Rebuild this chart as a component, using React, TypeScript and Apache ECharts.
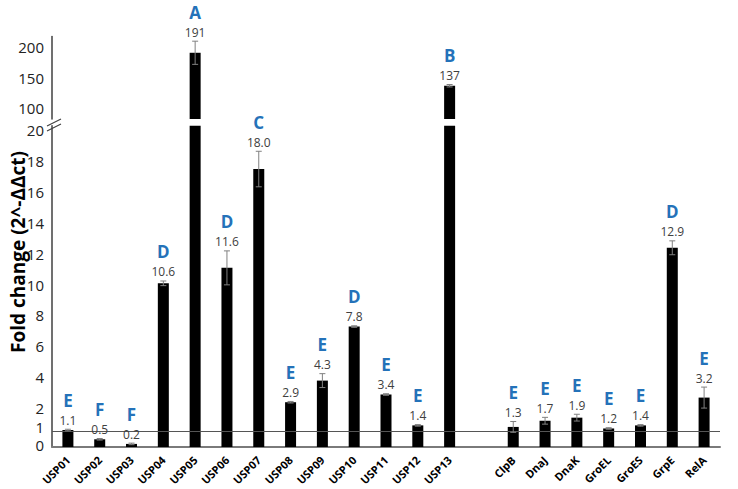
import React, { useEffect, useRef } from "react";
import * as echarts from "echarts";

const categories = ["USP01","USP02","USP03","USP04","USP05","USP06","USP07","USP08","USP09","USP10","USP11","USP12","USP13","","ClpB","DnaJ","DnaK","GroEL","GroES","GrpE","RelA"];
const foldChange: (number | null)[] = [1.1,0.5,0.2,10.6,191,11.6,18.0,2.9,4.3,7.8,3.4,1.4,137,null,1.3,1.7,1.9,1.2,1.4,12.9,3.2];
const errors: (number | null)[] = [0.05,0.05,0.05,0.15,19,1.1,1.15,0.05,0.45,0.05,0.05,0.05,2,null,0.35,0.22,0.22,0.05,0.05,0.45,0.68];
const valueLabels = ["1.1","0.5","0.2","10.6","191","11.6","18.0","2.9","4.3","7.8","3.4","1.4","137","","1.3","1.7","1.9","1.2","1.4","12.9","3.2"];
const groupLetters = ["E","F","F","D","A","D","C","E","E","D","E","E","B","","E","E","E","E","E","D","E"];
const lowerTicks = [0,1,2,4,6,8,10,12,14,16,18,20];
const upperTicks = [100,150,200];

const LOWER_MAX = 20.8;
const UPPER_MIN = 82.5;
const UPPER_MAX = 217.5;
const FONT = "'Open Sans', 'Noto Sans', sans-serif";

export default function App() {
  const ref = useRef<HTMLDivElement>(null);
  useEffect(() => {
    if (!ref.current) return;
    document.body.style.margin = "0";
    const chart = echarts.init(ref.current, null, { renderer: "svg" });

    const makeRender = () => (params: any, api: any) => {
      const i = api.value(0);
      const v = api.value(1);
      const e = api.value(2);
      const top = api.coord([i, v + e]);
      const bot = api.coord([i, Math.max(v - e, 0)]);
      const x = top[0];
      const grey = "#808080";
      return {
        type: "group",
        children: [
          { type: "line", shape: { x1: x, y1: top[1], x2: x, y2: bot[1] }, style: { stroke: grey, lineWidth: 1 } },
          { type: "line", shape: { x1: x - 3, y1: top[1], x2: x + 3, y2: top[1] }, style: { stroke: grey, lineWidth: 1 } },
          { type: "line", shape: { x1: x - 3, y1: bot[1], x2: x + 3, y2: bot[1] }, style: { stroke: grey, lineWidth: 1 } },
          { type: "text", x: x, y: top[1] - 9, style: { text: valueLabels[i], fill: "#404040", font: `12px ${FONT}`, align: "center", verticalAlign: "middle" } },
          { type: "text", x: x, y: top[1] - 29, style: { text: groupLetters[i], fill: "#2472B9", font: `bold 17px ${FONT}`, align: "center", verticalAlign: "middle" } },
        ],
      };
    };

    const lowerErr: number[][] = [];
    const upperErr: number[][] = [];
    foldChange.forEach((v, i) => {
      if (v == null) return;
      const e = errors[i] as number;
      if (v <= LOWER_MAX) lowerErr.push([i, v, e]);
      else upperErr.push([i, v, e]);
    });

    const lowerBars = foldChange.map((v) => (v == null ? "-" : v));
    const upperBars = foldChange.map((v) => (v != null && v > LOWER_MAX ? v : "-"));

    const lowerHeight = 447 - 125.8;
    const upperTop = 36.6;
    const upperHeight = 119 - upperTop;

    chart.setOption({
      animation: false,
      grid: [
        { left: 52, right: 18, top: 125.8, height: lowerHeight },
        { left: 52, right: 18, top: upperTop, height: upperHeight },
      ],
      xAxis: [
        {
          type: "category", gridIndex: 0, data: categories,
          axisLine: { show: true, lineStyle: { color: "#7a7a7a", width: 2 } },
          axisTick: { show: false },
          axisLabel: { rotate: 45, interval: 0, margin: 11, color: "#000", fontWeight: "bold", fontSize: 11, fontFamily: FONT },
        },
        { type: "category", gridIndex: 1, data: categories, show: false },
      ],
      yAxis: [
        {
          type: "value", gridIndex: 0, min: 0, max: LOWER_MAX, interval: 1,
          axisLine: { show: true, lineStyle: { color: "#404040", width: 1.5 } },
          axisTick: { show: false },
          splitLine: { show: false },
          axisLabel: {
            margin: 8, color: "#222", fontSize: 15, fontFamily: FONT,
            formatter: (v: number) => {
              const r = Math.round(v);
              if (Math.abs(v - r) > 1e-6 || !lowerTicks.includes(r)) return "";
              if (r === 0) return `{a|${r}}`;
              if (r === 1) return `{b|${r}}`;
              return `{c|${r}}`;
            },
            rich: {
              a: { fontSize: 15, fontFamily: FONT, color: "#222", padding: [0, 0, 4, 0] },
              b: { fontSize: 15, fontFamily: FONT, color: "#222", padding: [0, 0, 10, 0] },
              c: { fontSize: 15, fontFamily: FONT, color: "#222", padding: [0, 0, 16, 0] },
            },
          },
        },
        {
          type: "value", gridIndex: 1, min: UPPER_MIN, max: UPPER_MAX, interval: 2.5,
          axisLine: { show: true, lineStyle: { color: "#404040", width: 1.5 } },
          axisTick: { show: false },
          splitLine: { show: false },
          axisLabel: {
            margin: 8, color: "#222", fontSize: 15, fontFamily: FONT,
            formatter: (v: number) => {
              const r = Math.round(v);
              if (Math.abs(v - r) > 1e-6 || !upperTicks.includes(r)) return "";
              return String(r);
            },
          },
        },
      ],
      series: [
        {
          type: "bar", xAxisIndex: 0, yAxisIndex: 0, data: lowerBars, barWidth: 11, clip: true,
          itemStyle: { color: "#000" },
          markLine: {
            silent: true, symbol: "none", label: { show: false },
            lineStyle: { color: "#555", width: 1, type: "solid" },
            data: [{ yAxis: 1 }],
          },
        },
        {
          type: "bar", xAxisIndex: 1, yAxisIndex: 1, data: upperBars, barWidth: 11, clip: true,
          itemStyle: { color: "#000" },
        },
        {
          type: "custom", xAxisIndex: 0, yAxisIndex: 0, data: lowerErr, renderItem: makeRender(), clip: false, z: 5,
        },
        {
          type: "custom", xAxisIndex: 1, yAxisIndex: 1, data: upperErr, renderItem: makeRender(), clip: false, z: 5,
        },
      ],
      graphic: [
        {
          type: "text", x: 18, y: 252, rotation: Math.PI / 2,
          style: { text: "Fold change (2^-ΔΔct)", fill: "#000", font: `bold 19px ${FONT}`, align: "center", verticalAlign: "middle" },
        },
        { type: "rect", shape: { x: 45, y: 120, width: 16, height: 5 }, style: { fill: "#fff" } },
        { type: "line", shape: { x1: 47, y1: 126, x2: 61, y2: 119 }, style: { stroke: "#404040", lineWidth: 1.2 } },
        { type: "line", shape: { x1: 47, y1: 131, x2: 61, y2: 124 }, style: { stroke: "#404040", lineWidth: 1.2 } },
      ],
    });
    return () => chart.dispose();
  }, []);
  return <div ref={ref} style={{ width: 738, height: 489 }} />;
}
